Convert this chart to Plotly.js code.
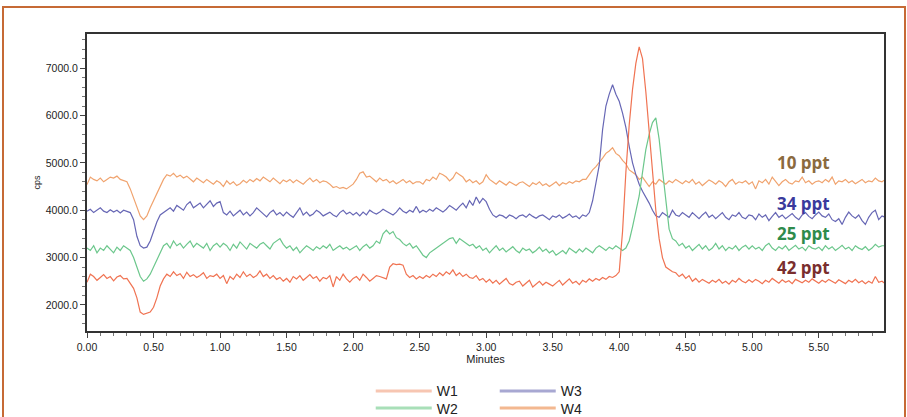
<!DOCTYPE html>
<html>
<head>
<meta charset="utf-8">
<script src="https://cdn.plot.ly/plotly-3.0.1.min.js"></script>
<style>
  html, body { margin: 0; padding: 0; background: #fff; }
  #wrap { position: relative; width: 907px; height: 417px; overflow: hidden; }
  #frame { position: absolute; left: 2px; top: 6px; width: 900px; height: 480px;
           border: 2px solid #c66a35; border-bottom: none; pointer-events: none; z-index: 5; }
  #chart { position: absolute; left: 0; top: 0; width: 907px; height: 417px; }
</style>
</head>
<body>
<div id="wrap">
  <div id="chart"></div>
  <div id="frame"></div>
</div>
<script>
// sampling grid (minutes)
const startMinute = 0;
const stepMinute = 0.025;

// W1 – 42 ppt (red)
const w1 = [
  2480, 2650, 2600, 2520, 2580, 2640, 2560, 2600, 2510, 2590, 2620, 2550, 2560, 2450, 2350, 2150, 1850, 1800, 1820, 1850,
  1950, 2150, 2400, 2550, 2650, 2600, 2700, 2620, 2660, 2560, 2690, 2600, 2640, 2580, 2620, 2680, 2560, 2620, 2600, 2650,
  2560, 2620, 2450, 2600, 2540, 2650, 2580, 2700, 2600, 2650, 2580, 2620, 2720, 2600, 2650, 2560, 2620, 2540, 2580, 2500,
  2560, 2480, 2600, 2550, 2620, 2520, 2580, 2640, 2560, 2600, 2500, 2580, 2550, 2620, 2380, 2600, 2520, 2650, 2550, 2480,
  2560, 2600, 2520, 2650, 2580, 2500, 2560, 2620, 2600, 2580, 2550, 2800, 2870, 2850, 2860, 2840, 2650, 2580, 2620, 2550,
  2600, 2560, 2620, 2580, 2650, 2600, 2680, 2620, 2700, 2650, 2740, 2620, 2680, 2600, 2650, 2580, 2560, 2620, 2520, 2560,
  2480, 2540, 2460, 2520, 2440, 2500, 2560, 2450, 2420, 2480, 2500, 2400, 2460, 2520, 2380, 2450, 2500, 2420, 2480, 2440,
  2400, 2460, 2520, 2420, 2480, 2550, 2460, 2500, 2430, 2520, 2480, 2550, 2500, 2560, 2520, 2580, 2540, 2600, 2580, 2620,
  2700, 3550, 4800, 5800, 6550, 7100, 7450, 7200, 6500, 5600, 4800, 4000, 3400, 3000, 2800, 2750, 2700, 2680, 2600, 2650,
  2560, 2620, 2500, 2560, 2480, 2540, 2500, 2460, 2520, 2480, 2540, 2460, 2500, 2440, 2520, 2480, 2560, 2500, 2470, 2530,
  2480, 2540, 2500, 2450, 2520, 2480, 2560, 2500, 2460, 2530, 2480, 2510, 2450, 2540, 2500, 2470, 2520, 2480, 2550, 2500,
  2460, 2520, 2480, 2540, 2500, 2460, 2530, 2490, 2450, 2520, 2480, 2540, 2470, 2510, 2450, 2500, 2460, 2600, 2480, 2500,
  2450
];

// W2 – 25 ppt (green)
const w2 = [
  3200, 3150, 3250, 3100, 3200, 3150, 3250, 3180, 3100, 3220, 3150, 3250, 3200, 3150, 3000, 2800, 2600, 2500, 2550, 2650,
  2800, 2950, 3100, 3250, 3300, 3200, 3350, 3250, 3300, 3200, 3280, 3350, 3220, 3300, 3250, 3200, 3300, 3150, 3250, 3300,
  3220, 3300, 3250, 3150, 3280, 3200, 3330, 3250, 3180, 3300, 3250, 3200, 3280, 3320, 3250, 3180, 3300, 3350, 3400, 3280,
  3200, 3250, 3150, 3220, 3100, 3180, 3250, 3200, 3150, 3230, 3180, 3250, 3200, 3280, 3150, 3200, 3250, 3180, 3220, 3160,
  3200, 3250, 3150, 3230, 3280, 3200, 3250, 3350, 3300, 3500, 3580, 3500, 3550, 3420, 3380, 3300, 3250, 3300, 3200, 3250,
  3150, 3050, 3000, 3100, 3150, 3200, 3250, 3300, 3350, 3400, 3420, 3300, 3400, 3350, 3300, 3250, 3280, 3200, 3250, 3150,
  3200, 3100, 3180, 3250, 3150, 3200, 3120, 3180, 3230, 3150, 3100, 3200, 3150, 3180, 3100, 3150, 3220, 3130, 3180, 3100,
  3150, 3050, 3100, 3150, 3080, 3200, 3150, 3100, 3180, 3120, 3200, 3150, 3100, 3200, 3250, 3200, 3150, 3220, 3180, 3250,
  3200, 3150, 3200, 3350, 3650, 3950, 4300, 4800, 5280, 5600, 5850, 5950, 5500, 4850, 4200, 3600, 3400, 3350, 3250, 3300,
  3200, 3250, 3150, 3220, 3280, 3180, 3250, 3150, 3200, 3300, 3180, 3250, 3150, 3220, 3180, 3250, 3150, 3220, 3260, 3180,
  3250, 3180, 3220, 3150, 3250, 3300, 3200, 3150, 3230, 3180, 3250, 3150, 3200, 3260, 3180, 3220, 3150, 3250, 3200, 3180,
  3220, 3150, 3250, 3180, 3230, 3150, 3200, 3260, 3180, 3220, 3150, 3250, 3200, 3170, 3230, 3150, 3200, 3280, 3220, 3250,
  3250
];

// W3 – 34 ppt (blue)
const w3 = [
  3980, 4020, 3950, 4000, 4050, 3980, 3950, 4010, 3960, 4000, 3940, 4000, 3980, 3950, 3800, 3450, 3250, 3200, 3220, 3350,
  3550, 3750, 3900, 3950, 4000, 4050, 3980, 4100, 4050, 4000, 4120, 4180, 4050, 4100, 4150, 4050, 4120, 4200, 4080, 4150,
  4180, 3950, 3900, 3980, 3880, 3950, 4000, 3900, 3960, 3880, 3950, 4050, 3980, 3920, 3860, 3950, 4000, 3900, 3950, 3880,
  3960, 3900, 3850, 3950, 4050, 3900, 3960, 3880, 3920, 4000, 3950, 3880, 3920, 3960, 3900, 3860, 3950, 4000, 3920, 3960,
  3900, 3950, 3880, 3960, 3900, 4000, 3950, 3920, 3960, 4020, 3980, 3940, 3900, 3960, 4050, 3980, 3940, 4000, 3960, 4080,
  3950, 4000, 3960, 4020, 3980, 4050, 4000, 3960, 4020, 4100, 4050, 4000, 4080, 4150, 4050, 4200, 4100, 4280, 4150, 4250,
  4180, 4020, 3900, 3850, 3900, 3880, 3830, 3900, 3870, 3820, 3880, 3900, 3850, 3920, 3870, 3830, 3880, 3900, 3850, 3800,
  3880, 3850, 3900, 3830, 3870, 3920, 3850, 3880, 3820, 3900, 3870, 3950, 4200, 4550, 4950, 5700, 6200, 6450, 6650, 6450,
  6300, 6050, 5750, 5350, 5000, 4750, 4550, 4400, 4280, 4150, 4000, 3880, 3850, 3950, 3900, 3850, 4000, 3900, 3870, 3950,
  3900, 3850, 3950, 3880, 3820, 3900, 3960, 3850, 3900, 3820, 3880, 3950, 3850, 3800, 3900, 3870, 3950, 3850, 3820, 3900,
  3880, 3800, 3920, 3850, 3900, 3780, 3870, 3950, 3850, 3900, 3820, 3880, 3930, 3850, 3800, 3900, 3950, 3870, 3820, 3900,
  3960, 3880, 3850, 3920, 3800, 3760, 3820, 3700, 3850, 3960, 3880, 3830, 3900, 3780, 3700, 3850, 3950, 4000, 3800, 3880,
  3850
];

// W4 – 10 ppt (orange)
const w4 = [
  4540, 4700, 4650, 4620, 4680, 4600, 4650, 4700, 4680, 4720, 4650, 4620, 4600, 4450, 4250, 4050, 3880, 3800, 3880, 4050,
  4200, 4350, 4500, 4650, 4750, 4720, 4780, 4700, 4740, 4680, 4720, 4650, 4600, 4680, 4620, 4580, 4650, 4600, 4550, 4620,
  4580, 4500, 4620, 4550, 4600, 4520, 4560, 4630, 4580, 4650, 4600, 4670, 4620, 4700, 4650, 4600, 4680, 4620, 4560, 4640,
  4600, 4650, 4580, 4640, 4600, 4550, 4620, 4680, 4600, 4650, 4580, 4620, 4600, 4550, 4480, 4500, 4460, 4480, 4450, 4500,
  4550, 4650, 4780, 4810, 4700, 4720, 4650, 4600, 4680, 4620, 4650, 4580, 4620, 4560, 4600, 4650, 4580, 4620, 4560, 4600,
  4600, 4550, 4650, 4620, 4700, 4650, 4780, 4750, 4700, 4620, 4680, 4800, 4750, 4700, 4600, 4650, 4580, 4620, 4550, 4600,
  4750, 4650, 4600, 4550, 4620, 4580, 4530, 4600, 4560, 4520, 4580, 4600, 4550, 4500, 4580, 4540, 4600, 4520, 4560, 4500,
  4550, 4600, 4520, 4580, 4550, 4600, 4570, 4620, 4600, 4650, 4650, 4750, 4850, 4920, 5000, 5100, 5200, 5250, 5320, 5200,
  5150, 5050, 4980, 4850, 4800, 4750, 4650, 4700, 4600, 4500, 4600, 4550, 4650, 4600, 4550, 4620, 4580, 4650, 4600, 4560,
  4620, 4580, 4650, 4550, 4600, 4520, 4580, 4640, 4600, 4550, 4620, 4580, 4500, 4600, 4650, 4550, 4600, 4580, 4620, 4550,
  4600, 4450, 4620, 4580, 4650, 4550, 4700, 4600, 4520, 4600, 4650, 4580, 4550, 4620, 4600, 4700, 4580, 4620, 4550, 4600,
  4620, 4580, 4650, 4600, 4700, 4550, 4620, 4600, 4650, 4580, 4620, 4560, 4600, 4650, 4580, 4620, 4600, 4680, 4620, 4600,
  4650
];

const seriesNames = ['W1', 'W2', 'W3', 'W4'];
const concLabels = ['42 ppt', '25 ppt', '34 ppt', '10 ppt'];
const xTickLabels = ['0.00','0.50','1.00','1.50','2.00','2.50','3.00','3.50','4.00','4.50','5.00','5.50'];
const yTickLabels = ['2000.0','3000.0','4000.0','5000.0','6000.0','7000.0'];

const minutes = w1.map((_, i) => +(startMinute + i * stepMinute).toFixed(3));

const lineColors = ['#f07352', '#6cc78c', '#6767b5', '#f0a36e'];
const legendColors = ['#f7c6b2', '#a8dfb8', '#a8a8d2', '#f3b890'];
const labelColors = ['#7a2e2e', '#2e8b4c', '#3a3a9c', '#8b6a3e'];
const seriesData = [w1, w2, w3, w4];

const traces = [];
[3, 2, 1, 0].forEach(k => {
  traces.push({
    type: 'scatter', mode: 'lines', x: minutes, y: seriesData[k],
    name: seriesNames[k], showlegend: false,
    line: { color: lineColors[k], width: 1.2 }, hoverinfo: 'x+y+name'
  });
});
// legend entries: row 1 W1, W3 ; row 2 W2, W4
const legendMap = { W1: 'legend', W3: 'legend', W2: 'legend2', W4: 'legend2' };
['W1', 'W3', 'W2', 'W4'].forEach(n => {
  const k = seriesNames.indexOf(n);
  traces.push({
    type: 'scatter', mode: 'lines', x: [null], y: [null], name: n,
    legend: legendMap[n], showlegend: true,
    line: { color: legendColors[k], width: 3 }
  });
});

const labelY = [2790, 3500, 4150, 5000];
const annotations = concLabels.map((t, k) => ({
  text: t, x: 5.6, y: labelY[k], xref: 'x', yref: 'y', xanchor: 'right', yanchor: 'middle',
  showarrow: false,
  font: { family: 'Open Sans', size: 17, weight: 'bold', color: labelColors[k] }
}));

const tickFont = { family: 'Liberation Sans', size: 10.5, color: '#222' };
const legendFont = { family: 'Liberation Sans', size: 14, color: '#222' };

const legendCommon = {
  orientation: 'h', x: 0.356, xanchor: 'left', yanchor: 'middle',
  font: legendFont, bgcolor: 'rgba(0,0,0,0)', borderwidth: 0,
  itemwidth: 56, entrywidth: 53, entrywidthmode: 'pixels', traceorder: 'normal'
};

const layout = {
  width: 907, height: 417,
  margin: { l: 87, r: 23, t: 34, b: 86, autoexpand: false },
  paper_bgcolor: '#ffffff', plot_bgcolor: '#ffffff',
  showlegend: true,
  xaxis: {
    range: [0, 5.99], tickmode: 'array',
    tickvals: xTickLabels.map(Number), ticktext: xTickLabels,
    ticks: 'outside', ticklen: 5, tickcolor: '#444', tickwidth: 1,
    showline: true, linecolor: '#333', linewidth: 2, mirror: true,
    showgrid: false, zeroline: false,
    minor: { dtick: 0.1, tick0: 0, ticks: 'outside', ticklen: 3, tickcolor: '#777', showgrid: false },
    tickfont: tickFont,
    title: { text: 'Minutes', font: { family: 'Liberation Sans', size: 11, color: '#222' }, standoff: 2 }
  },
  yaxis: {
    range: [1450, 7720], tickmode: 'array',
    tickvals: yTickLabels.map(Number), ticktext: yTickLabels,
    ticks: 'outside', ticklen: 5, tickcolor: '#444', tickwidth: 1,
    showline: true, linecolor: '#333', linewidth: 2, mirror: true,
    showgrid: false, zeroline: false,
    minor: { dtick: 200, tick0: 0, ticks: 'outside', ticklen: 3, tickcolor: '#777', showgrid: false },
    tickfont: tickFont,
    title: { text: 'cps', font: { family: 'Liberation Sans', size: 9, color: '#222' }, standoff: 4 }
  },
  legend: Object.assign({}, legendCommon, { y: -0.203 }),
  legend2: Object.assign({}, legendCommon, { y: -0.261 }),
  annotations: annotations
};

Plotly.newPlot('chart', traces, layout, { displayModeBar: false, staticPlot: true });
</script>
</body>
</html>
